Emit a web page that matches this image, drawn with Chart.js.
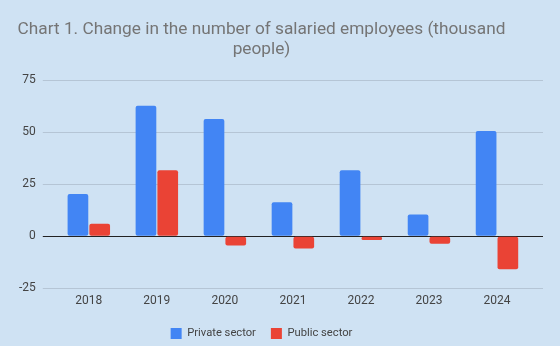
<!DOCTYPE html>
<html>
<head>
<meta charset="utf-8">
<script src="https://cdn.jsdelivr.net/npm/chart.js@4"></script>
<style>
  html, body { margin: 0; padding: 0; background: #cfe2f3; }
  #wrap { width: 560px; height: 346px; position: relative; }
</style>
</head>
<body>
<div id="wrap"><canvas id="chart"></canvas></div>
<script>
const years = ['2018', '2019', '2020', '2021', '2022', '2023', '2024'];
const privateSector = [20.3, 62.7, 56.3, 16.3, 31.7, 10.5, 50.5];
const publicSector = [6, 31.7, -4.4, -5.9, -1.8, -3.6, -15.8];
const yTicks = [-25, 0, 25, 50, 75];

function gridColor(ctx) {
    return ctx.tick && ctx.tick.value === 0 ? '#222222' : '#b5c5d5';
}

// title and legend sit a bit left of the canvas centre in the original
const shiftCenter = {
    id: 'shiftCenter',
    afterLayout(chart) {
        chart.titleBlock.right -= 32;
        chart.legend.right -= 32;
    }
};

function changeChart(ctx) {
    const chart = new Chart(ctx, {
        type: 'bar',
        data: {
            labels: years,
            datasets: [
                {
                    label: 'Private sector',
                    data: privateSector,
                    backgroundColor: '#4285f4',
                    borderRadius: 2,
                    borderSkipped: false
                },
                {
                    label: 'Public sector',
                    data: publicSector,
                    backgroundColor: '#ea4335',
                    borderRadius: 2,
                    borderSkipped: false
                }
            ]
        },
        options: {
            responsive: true,
            maintainAspectRatio: false,
            animation: false,
            categoryPercentage: 0.64,
            barPercentage: 0.95,
            layout: { padding: { left: 12, right: 17, top: 0, bottom: -3 } },
            plugins: {
                title: {
                    display: true,
                    text: ['Chart 1. Change in the number of salaried employees (thousand', 'people)'],
                    color: '#757575',
                    font: { family: 'Roboto', size: 17.25, weight: 'normal', lineHeight: 1.16 },
                    padding: { top: 20, bottom: 20 }
                },
                legend: {
                    position: 'bottom',
                    labels: {
                        boxWidth: 11,
                        boxHeight: 11,
                        padding: 15,
                        color: '#444444',
                        font: { family: 'Roboto', size: 11.2 }
                    }
                },
                tooltip: { enabled: false }
            },
            scales: {
                x: {
                    grid: { display: false, drawTicks: false },
                    border: { display: false },
                    ticks: { color: '#444444', font: { family: 'Roboto', size: 12 }, padding: 5 }
                },
                y: {
                    min: -25,
                    max: 75,
                    afterBuildTicks: (axis) => { axis.ticks = yTicks.map(v => ({ value: v })); },
                    grid: { color: gridColor, tickColor: gridColor, tickLength: 12 },
                    border: { display: false },
                    ticks: { color: '#444444', font: { family: 'Roboto', size: 12 }, padding: 7 }
                },
                yRight: {
                    position: 'right',
                    min: -25,
                    max: 75,
                    afterBuildTicks: (axis) => { axis.ticks = yTicks.map(v => ({ value: v })); },
                    grid: { color: gridColor, tickColor: gridColor, tickLength: 12, drawOnChartArea: false },
                    border: { display: false },
                    ticks: { display: false }
                }
            }
        },
        plugins: [shiftCenter]
    });
    return chart;
}

changeChart(document.getElementById('chart').getContext('2d'));
</script>
</body>
</html>
